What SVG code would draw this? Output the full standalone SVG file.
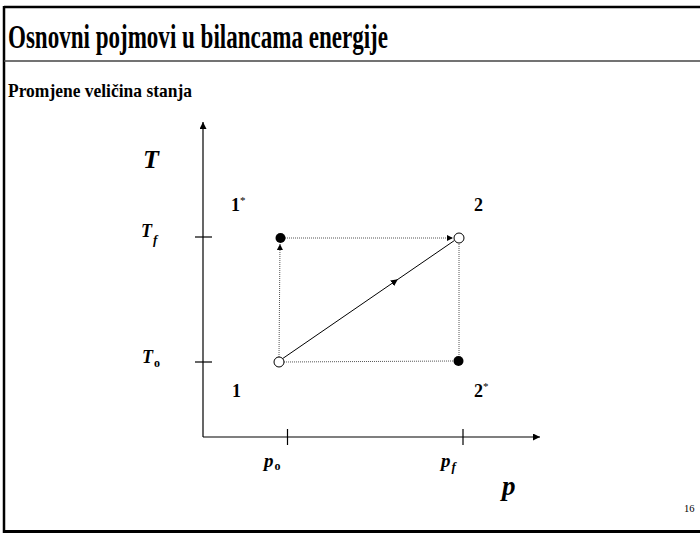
<svg xmlns="http://www.w3.org/2000/svg" width="700" height="533" viewBox="0 0 700 533">
<defs>
<style>
.t{font-family:"Liberation Serif","Times New Roman",serif;font-weight:bold;fill:#000}
.i{font-style:italic}
.dot{stroke:#555;stroke-width:1;stroke-dasharray:1 1;fill:none}
.ax{stroke:#000;stroke-width:1.2;fill:none}
</style>
<marker id="ah" viewBox="0 0 10 10" refX="10" refY="5" markerWidth="7" markerHeight="7" markerUnits="userSpaceOnUse" orient="auto"><path d="M0,0 L10,5 L0,10 Z" fill="#000"/></marker>
<marker id="ahs" viewBox="0 0 10 10" refX="10" refY="5" markerWidth="6" markerHeight="6" markerUnits="userSpaceOnUse" orient="auto"><path d="M0,0 L10,5 L0,10 Z" fill="#000"/></marker>
<marker id="mid" viewBox="0 0 10 10" refX="5" refY="5" markerWidth="7" markerHeight="7" markerUnits="userSpaceOnUse" orient="auto"><path d="M0,0 L10,5 L0,10 Z" fill="#000"/></marker>
</defs>
<rect width="700" height="533" fill="#fff"/>
<g id="frame">
<line x1="4" y1="7" x2="700" y2="7" stroke="#000" stroke-width="2.5"/>
<line x1="4" y1="6" x2="4" y2="533" stroke="#000" stroke-width="2.5"/>
<line x1="3" y1="531.5" x2="700" y2="531.5" stroke="#000" stroke-width="3"/>
<line x1="4" y1="61" x2="700" y2="61" stroke="#444" stroke-width="1.5"/>
</g>
<text class="t" x="8" y="48" font-size="33" textLength="380" lengthAdjust="spacingAndGlyphs">Osnovni pojmovi u bilancama energije</text>
<text class="t" x="8" y="97" font-size="19" textLength="184" lengthAdjust="spacingAndGlyphs">Promjene veličina stanja</text>
<g id="axes">
<line class="ax" x1="203" y1="437" x2="203" y2="122" marker-end="url(#ah)"/>
<line class="ax" x1="203" y1="437" x2="540" y2="437" marker-end="url(#ah)"/>
<line class="ax" x1="195" y1="237" x2="212" y2="237"/>
<line class="ax" x1="195" y1="362" x2="212" y2="362"/>
<line class="ax" x1="287.5" y1="429" x2="287.5" y2="445"/>
<line class="ax" x1="463" y1="429" x2="463" y2="445"/>
</g>
<g id="connectors">
<line class="dot" x1="279" y1="357" x2="280" y2="244" marker-end="url(#ahs)"/>
<line class="dot" x1="285" y1="238" x2="453" y2="238" marker-end="url(#ahs)"/>
<line class="dot" x1="284" y1="362" x2="453" y2="361"/>
<line class="dot" x1="459" y1="355" x2="459" y2="243"/>
<path d="M282,359 L395,281.3 L454,240.8" stroke="#000" stroke-width="1" fill="none" marker-mid="url(#mid)"/>
</g>
<g id="state1"><circle cx="279" cy="362" r="5" fill="#fff" stroke="#000" stroke-width="1"/></g>
<g id="state1s"><circle cx="280.5" cy="238" r="5" fill="#000"/></g>
<g id="state2"><circle cx="459" cy="238" r="5" fill="#fff" stroke="#000" stroke-width="1"/></g>
<g id="state2s"><circle cx="458.5" cy="361" r="5" fill="#000"/></g>
<g id="labels">
<text class="t i" x="143" y="168" font-size="26">T</text>
<text class="t i" x="141" y="237" font-size="18">T<tspan font-size="13" dx="1" dy="7">f</tspan></text>
<text class="t i" x="142" y="363" font-size="18">T<tspan font-style="normal" font-size="12" dx="1" dy="4">o</tspan></text>
<text class="t i" x="264" y="467" font-size="19">p<tspan font-style="normal" font-size="12" dx="1" dy="3">o</tspan></text>
<text class="t i" x="441" y="467" font-size="19">p<tspan font-size="13" dx="1" dy="4">f</tspan></text>
<text class="t i" x="502" y="495" font-size="27">p</text>
<text class="t" x="231" y="211" font-size="18">1<tspan font-size="11" font-weight="normal" dy="-7">*</tspan></text>
<text class="t" x="474" y="211" font-size="18">2</text>
<text class="t" x="232" y="397" font-size="18">1</text>
<text class="t" x="474" y="397" font-size="18">2<tspan font-size="11" font-weight="normal" dy="-7">*</tspan></text>
<text x="684" y="512" font-family="Liberation Serif,serif" font-size="10.5">16</text>
</g>
</svg>
